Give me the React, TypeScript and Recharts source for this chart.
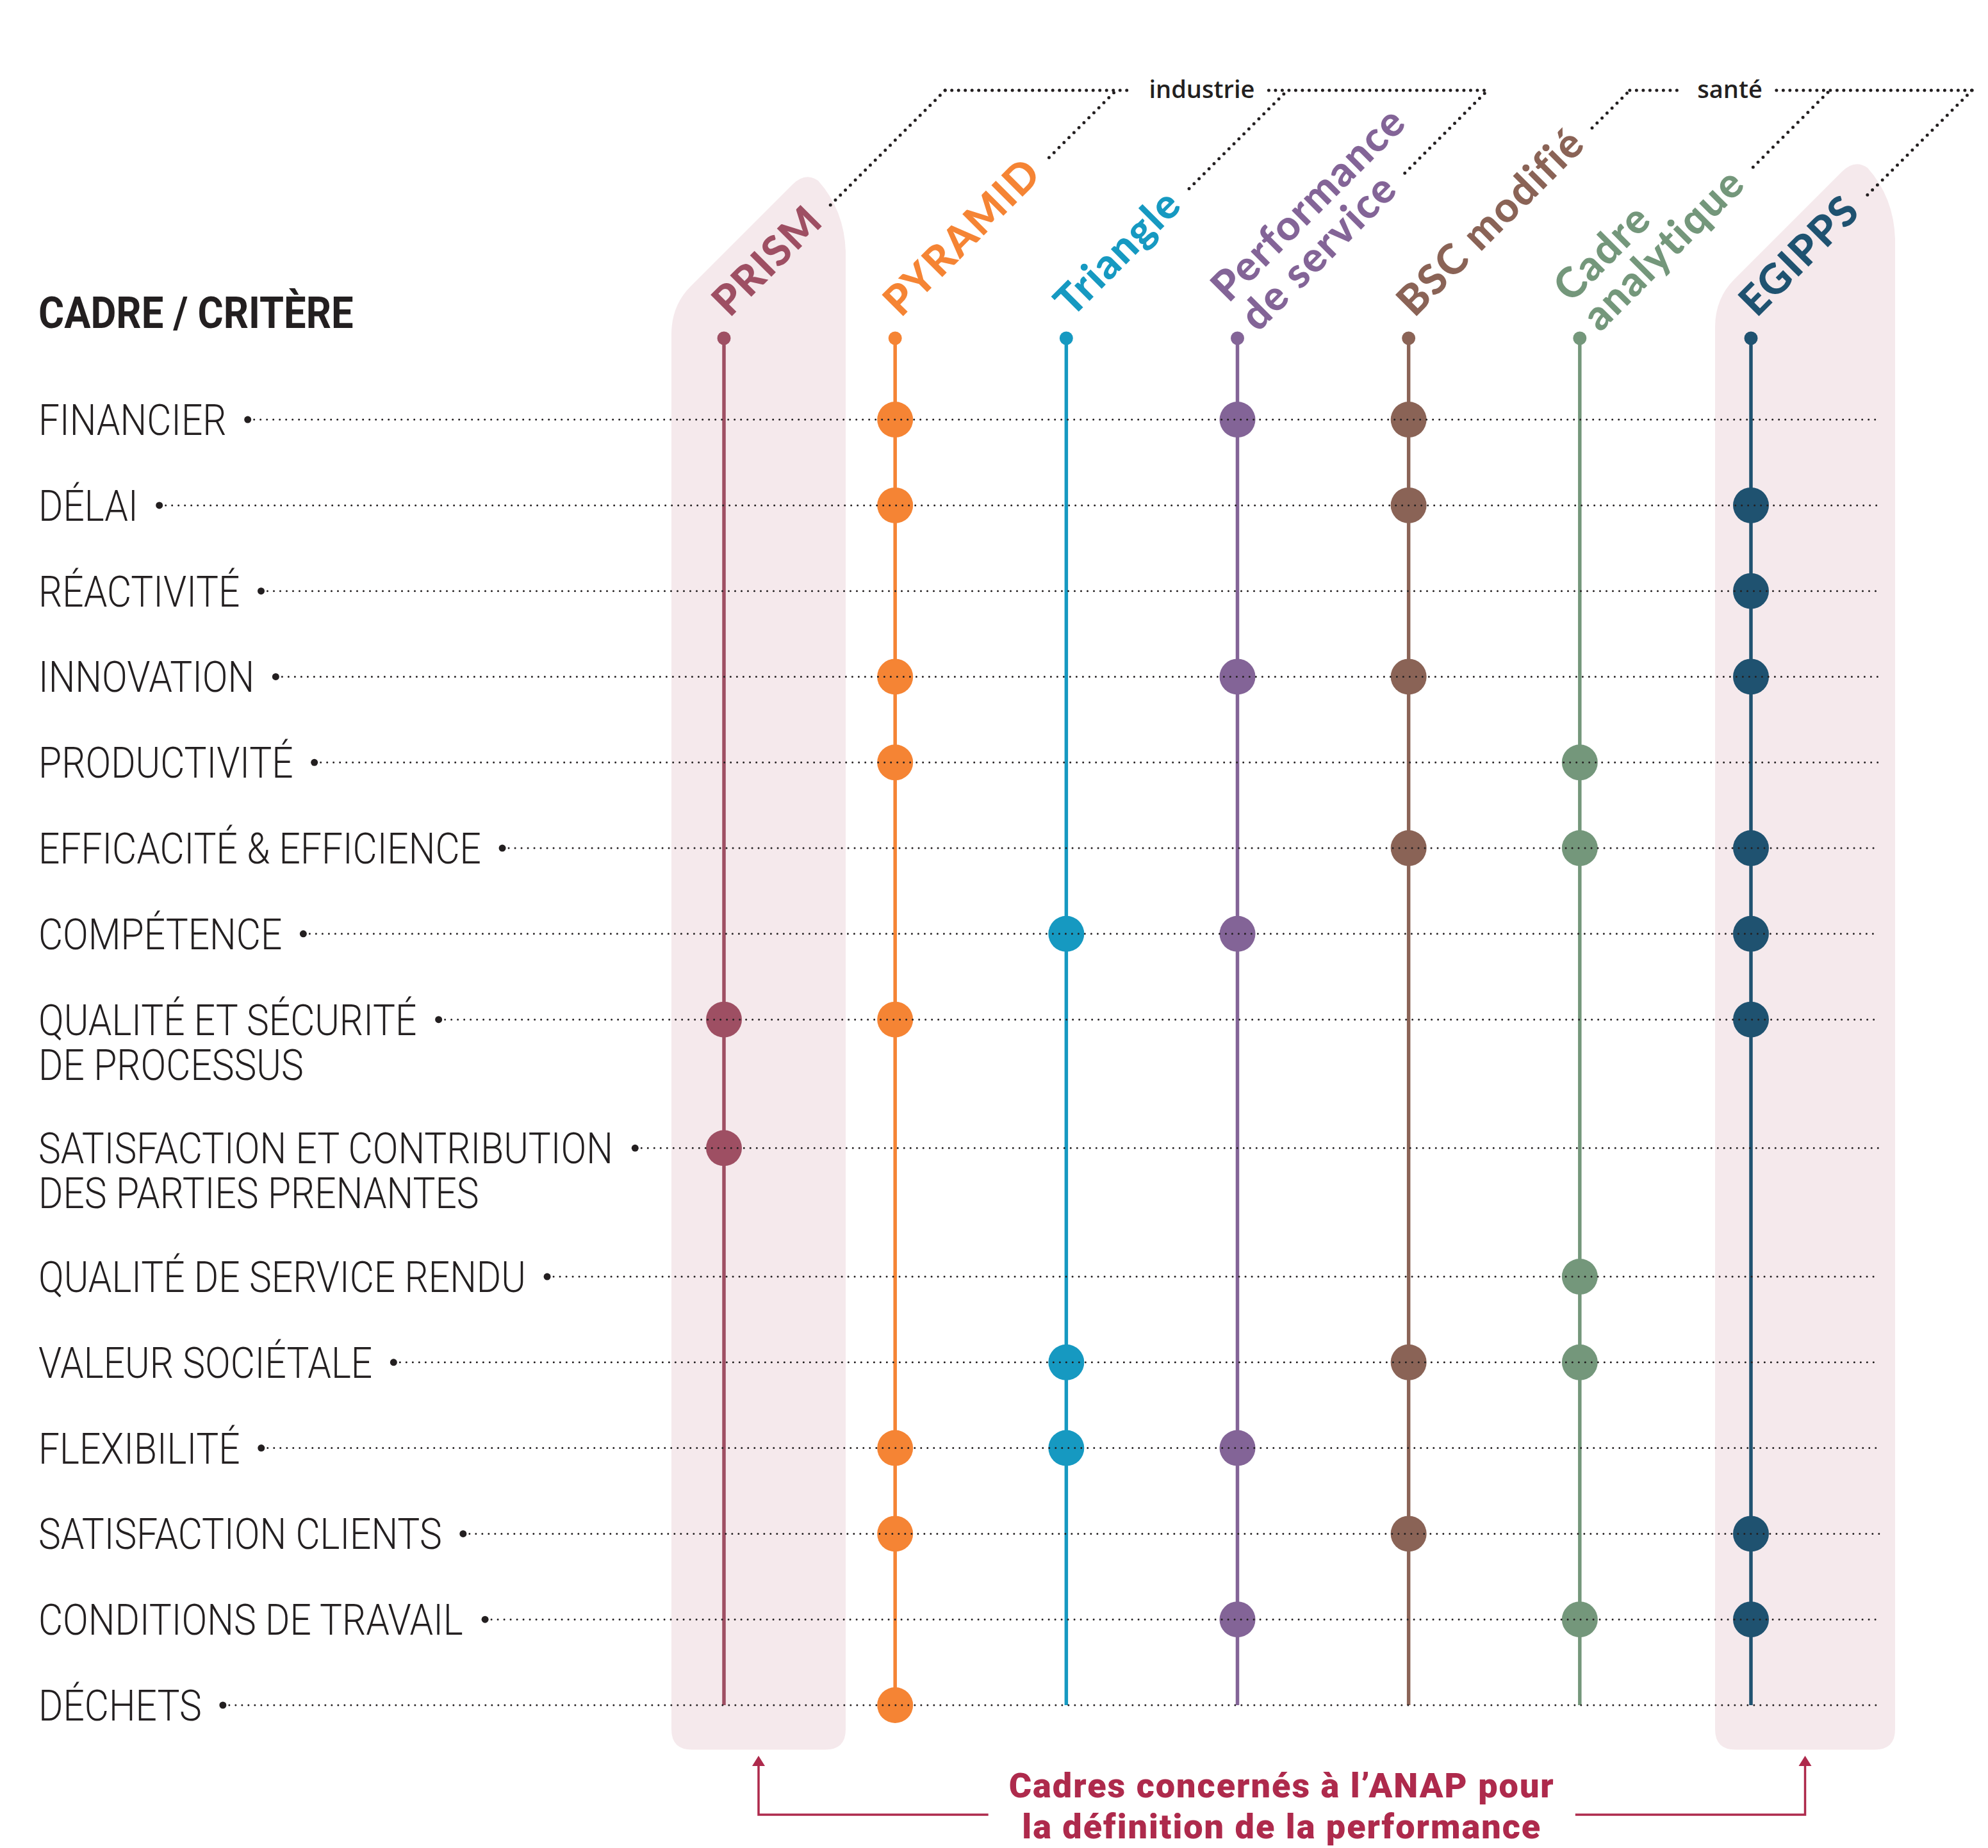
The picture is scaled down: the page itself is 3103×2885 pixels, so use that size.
import React from "react";
import {
  ScatterChart,
  Scatter,
  XAxis,
  YAxis,
  ReferenceLine,
  ReferenceDot,
  ReferenceArea,
  Customized,
} from "recharts";

// criteria (rows), "\n" = label on two lines
const criteria = [
  "FINANCIER",
  "DÉLAI",
  "RÉACTIVITÉ",
  "INNOVATION",
  "PRODUCTIVITÉ",
  "EFFICACITÉ & EFFICIENCE",
  "COMPÉTENCE",
  "QUALITÉ ET SÉCURITÉ\nDE PROCESSUS",
  "SATISFACTION ET CONTRIBUTION\nDES PARTIES PRENANTES",
  "QUALITÉ DE SERVICE RENDU",
  "VALEUR SOCIÉTALE",
  "FLEXIBILITÉ",
  "SATISFACTION CLIENTS",
  "CONDITIONS DE TRAVAIL",
  "DÉCHETS",
];

// frameworks (columns)
const frameworks = [
  "PRISM",
  "PYRAMID",
  "Triangle",
  "Performance\nde service",
  "BSC modifié",
  "Cadre\nanalytique",
  "EGIPPS",
];
const frameworkGroup = [0, 0, 0, 0, 1, 1, 1];
const groupLabels = ["industrie", "santé"];
const anapFrameworks = ["PRISM", "EGIPPS"];

// 1 = criterion covered by the framework (same order as criteria)
const prism = [0, 0, 0, 0, 0, 0, 0, 1, 1, 0, 0, 0, 0, 0, 0];
const pyramid = [1, 1, 0, 1, 1, 0, 0, 1, 0, 0, 0, 1, 1, 0, 1];
const triangle = [0, 0, 0, 0, 0, 0, 1, 0, 0, 0, 1, 1, 0, 0, 0];
const perfService = [1, 0, 0, 1, 0, 0, 1, 0, 0, 0, 0, 1, 0, 1, 0];
const bscModifie = [1, 1, 0, 1, 0, 1, 0, 0, 0, 0, 1, 0, 1, 0, 0];
const cadreAnalytique = [0, 0, 0, 0, 1, 1, 0, 0, 0, 1, 1, 0, 0, 1, 0];
const egipps = [0, 1, 1, 1, 0, 1, 1, 1, 0, 0, 0, 0, 1, 1, 0];
const coverage = [prism, pyramid, triangle, perfService, bscModifie, cadreAnalytique, egipps];

const title = "CADRE / CRITÈRE";
const note = ["Cadres concernés à l’ANAP pour", "la définition de la performance"];

// ---- styles / layout ----
const colors = ["#9E4F63", "#F58434", "#1699C1", "#836497", "#8A6356", "#74977B", "#1F5270"];
const INK = "#231F20";
const PINK = "#F5E9EC";
const CRIMSON = "#AE2A4C";

const W = 3103;
const H = 2885;
const PLOT_LEFT = 1130;
const PLOT_RIGHT = 2733;
const PLOT_TOP = 528;
const PLOT_BOTTOM = 2662;
const STEP = (PLOT_RIGHT - PLOT_LEFT) / (frameworks.length - 1);
const colPx = (i: number) => PLOT_LEFT + i * STEP;

const TOP = -0.95; // row units, where the stems start
// row positions: two-line labels take 1.5 rows
const rowPos: number[] = [];
criteria.reduce((p, c) => {
  rowPos.push(p);
  return p + (c.includes("\n") ? 1.5 : 1);
}, 0);
const LAST = rowPos[rowPos.length - 1];

const LABEL_X = 60;
const LABEL_SIZE = 67;
const LABEL_SX = 0.876;
const LABEL_FONT = `300 ${LABEL_SIZE}px Roboto`;
const GRID_END = 2933;

const D = Math.SQRT1_2;
const HEAD_SIZE = 65;
const HEAD_FONT = `900 ${HEAD_SIZE}px Lato`;
const HEAD_LS = 2;
const HEAD_LH = 64;
const HEAD_DX = 9;
const HEAD_Y = 497;
const LEAD_GAP = 26;
const BRACKET_Y = 141;

const NOTE_SIZE = 54;
const NOTE_LS = 2;

// pink highlight around the ANAP frameworks (px offsets from stem)
const highlights = [
  { name: "PRISM", left: -82, right: 190, rise: 260 },
  { name: "EGIPPS", left: -56, right: 225, rise: 280 },
];

let ctx: any = null;
function textW(s: string, font: string, ls = 0) {
  if (!ctx) ctx = document.createElement("canvas").getContext("2d");
  ctx.font = font;
  return ctx.measureText(s).width + ls * s.length;
}

function headGeom(i: number, colX: number) {
  const lines = frameworks[i].split("\n");
  const n = lines.length;
  const bx = colX + HEAD_DX;
  const by = HEAD_Y;
  const offs = lines.map((_, k) => (k - (n - 1) / 2) * HEAD_LH);
  const anchors = offs.map((o) => [bx + o * D, by + o * D]);
  const lastW = textW(lines[n - 1], HEAD_FONT, HEAD_LS);
  const perp = offs[n - 1] - 14;
  const along = lastW + LEAD_GAP;
  const sx = bx + perp * D + along * D;
  const sy = by + perp * D - along * D;
  const t = sy - BRACKET_Y;
  return { lines, anchors, sx, sy, ex: sx + t, ey: BRACKET_Y };
}

const Dotted = ({ x1, y1, x2, y2, w = 5, gap = 11 }: any) => (
  <line
    x1={x1}
    y1={y1}
    x2={x2}
    y2={y2}
    stroke={INK}
    strokeWidth={w}
    strokeDasharray={`0 ${gap}`}
    strokeLinecap="round"
  />
);

const CriterionTick = (props: any) => {
  const { y, payload } = props;
  const idx = rowPos.indexOf(payload.value);
  if (idx < 0) return null;
  const lines = criteria[idx].split("\n");
  const w = textW(lines[0], LABEL_FONT) * LABEL_SX;
  const dotX = LABEL_X + w + 33;
  return (
    <g>
      <Dotted x1={dotX + 10} y1={y} x2={GRID_END} y2={y} w={3} gap={10} />
      <circle cx={dotX} cy={y} r={5.5} fill={INK} />
      <text
        transform={`translate(${LABEL_X},${y + 24}) scale(${LABEL_SX},1)`}
        fontFamily="Roboto"
        fontWeight={300}
        fontSize={LABEL_SIZE}
        fill={INK}
      >
        {lines.map((l, k) => (
          <tspan key={k} x={0} dy={k === 0 ? 0 : 70}>
            {l}
          </tspan>
        ))}
      </text>
    </g>
  );
};

const FrameworkTick = (props: any) => {
  const { x, payload } = props;
  const i = payload.value;
  const g = headGeom(i, x);
  return (
    <g>
      {g.lines.map((l, k) => (
        <text
          key={k}
          transform={`translate(${g.anchors[k][0]},${g.anchors[k][1]}) rotate(-45)`}
          fontFamily="Lato"
          fontWeight={900}
          fontSize={HEAD_SIZE}
          letterSpacing={HEAD_LS}
          fill={colors[i]}
        >
          {l}
        </text>
      ))}
      <Dotted x1={g.sx} y1={g.sy} x2={g.ex} y2={g.ey} />
    </g>
  );
};

const HighlightShape = (rise: number) => (p: any) => {
  const L = p.x;
  const R = p.x + p.width;
  const B = p.y + p.height;
  const P = p.y - rise;
  const px = R - 63;
  const dy = P + (px - L); // where the 45° edge meets the left side
  const r = 32;
  const d = [
    `M ${L} ${B - r}`,
    `L ${L} ${dy + 45}`,
    `Q ${L} ${dy} ${L + 30} ${dy - 30}`,
    `L ${px - 20} ${P + 20}`,
    `Q ${px} ${P} ${px + 20} ${P + 14}`,
    `Q ${R - 2} ${P + 60} ${R} ${P + 125}`,
    `L ${R} ${B - r}`,
    `Q ${R} ${B} ${R - r} ${B}`,
    `L ${L + r} ${B}`,
    `Q ${L} ${B} ${L} ${B - r}`,
    "Z",
  ].join(" ");
  return <path d={d} fill={PINK} />;
};

const Overlay = () => {
  const groups = groupLabels.map((label, gi) => {
    const members = frameworks.map((_, i) => i).filter((i) => frameworkGroup[i] === gi);
    const ends = members.map((i) => headGeom(i, colPx(i)).ex);
    const n = members.length;
    const mid = (ends[Math.floor(n / 2) - 1] + ends[Math.floor(n / 2)]) / 2;
    const tw = textW(label, "600 38px 'Open Sans'");
    return (
      <g key={label}>
        <Dotted x1={ends[0]} y1={BRACKET_Y} x2={mid - tw / 2 - 26} y2={BRACKET_Y} gap={10.5} />
        <Dotted x1={mid + tw / 2 + 22} y1={BRACKET_Y} x2={ends[n - 1]} y2={BRACKET_Y} gap={10.5} />
        <text
          x={mid}
          y={BRACKET_Y + 12}
          textAnchor="middle"
          fontFamily="Open Sans"
          fontWeight={600}
          fontSize={38}
          fill={INK}
        >
          {label}
        </text>
      </g>
    );
  });

  const arrowX = anapFrameworks.map((name) => {
    const h = highlights.find((hh) => hh.name === name)!;
    return colPx(frameworks.indexOf(name)) + (h.left + h.right) / 2;
  });
  const cx = (arrowX[0] + arrowX[1]) / 2;
  const noteFont = `900 ${NOTE_SIZE}px Roboto`;
  const nw = textW(note[0], noteFont, NOTE_LS);
  const ly = 2833;
  const tip = 2741;
  const arrow = (ax: number, tx: number) => (
    <g>
      <polyline
        points={`${tx},${ly} ${ax},${ly} ${ax},${tip + 14}`}
        fill="none"
        stroke={CRIMSON}
        strokeWidth={3.5}
      />
      <polygon points={`${ax - 10},${tip + 16} ${ax + 10},${tip + 16} ${ax},${tip}`} fill={CRIMSON} />
    </g>
  );

  return (
    <g>
      <text
        transform={`translate(${LABEL_X},512) scale(0.89,1)`}
        fontFamily="Roboto"
        fontWeight={700}
        fontSize={69}
        fill={INK}
      >
        {title}
      </text>
      {groups}
      {arrow(arrowX[0], cx - nw / 2 - 32)}
      {arrow(arrowX[1], cx + nw / 2 + 32)}
      {note.map((l, k) => (
        <text
          key={k}
          x={cx}
          y={2806 + k * 64}
          textAnchor="middle"
          fontFamily="Roboto"
          fontWeight={900}
          fontSize={NOTE_SIZE}
          letterSpacing={NOTE_LS}
          fill={CRIMSON}
        >
          {l}
        </text>
      ))}
    </g>
  );
};

export default function App() {
  const series = frameworks.map((name, i) => ({
    name,
    color: colors[i],
    data: coverage[i]
      .map((v, r) => (v ? { x: i, y: rowPos[r] } : null))
      .filter(Boolean),
  }));

  return (
    <div style={{ position: "absolute", left: 0, top: 0, background: "#fff" }}>
      <ScatterChart
        width={W}
        height={H}
        margin={{
          top: PLOT_TOP - 1,
          right: W - PLOT_RIGHT,
          bottom: H - PLOT_BOTTOM,
          left: PLOT_LEFT - 1,
        }}
      >
        {highlights.map((h) => {
          const c = frameworks.indexOf(h.name);
          return (
            <ReferenceArea
              key={h.name}
              x1={c + h.left / STEP}
              x2={c + h.right / STEP}
              y1={TOP}
              y2={LAST + 0.52}
              ifOverflow="visible"
              shape={HighlightShape(h.rise)}
            />
          );
        })}
        <XAxis
          type="number"
          dataKey="x"
          orientation="top"
          domain={[0, frameworks.length - 1]}
          ticks={frameworks.map((_, i) => i)}
          interval={0}
          axisLine={false}
          tickLine={false}
          height={1}
          tick={<FrameworkTick />}
        />
        <YAxis
          type="number"
          dataKey="y"
          reversed
          domain={[TOP, LAST]}
          ticks={rowPos}
          interval={0}
          axisLine={false}
          tickLine={false}
          width={1}
          tick={<CriterionTick />}
        />
        <Customized component={<Overlay />} />
        {series.map((s, i) => (
          <ReferenceLine
            key={`stem-${s.name}`}
            segment={[
              { x: i, y: TOP },
              { x: i, y: LAST },
            ]}
            stroke={s.color}
            strokeWidth={5.5}
          />
        ))}
        {series.map((s, i) => (
          <ReferenceDot
            key={`top-${s.name}`}
            x={i}
            y={TOP}
            r={10.5}
            fill={s.color}
            stroke="none"
          />
        ))}
        {series.map((s) => (
          <Scatter
            key={s.name}
            name={s.name}
            data={s.data as any[]}
            isAnimationActive={false}
            shape={(p: any) => <circle cx={p.cx} cy={p.cy} r={28} fill={s.color} />}
          />
        ))}
      </ScatterChart>
    </div>
  );
}
